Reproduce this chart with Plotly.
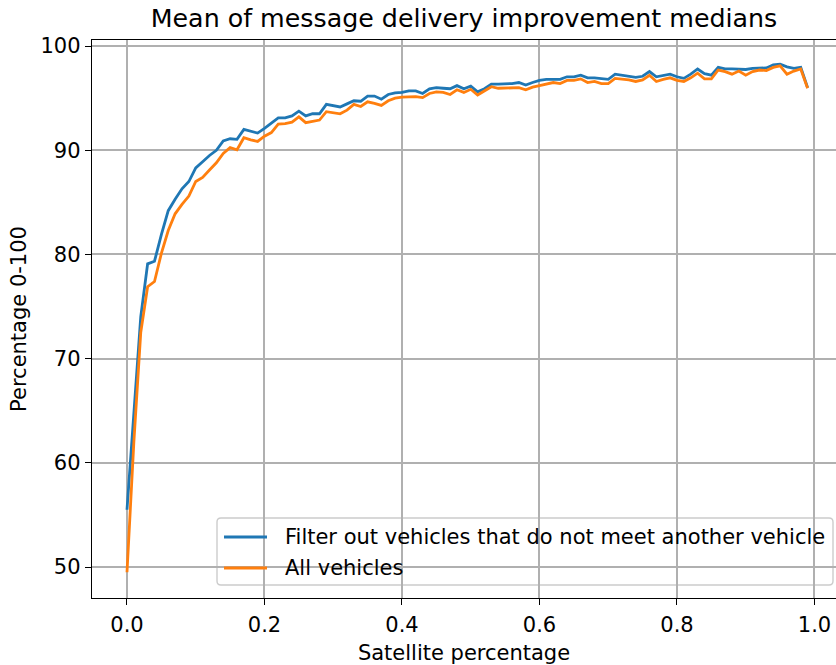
import plotly.graph_objects as go

# Satellite share (0.00 .. 0.99 in steps of 0.01)
satellite_pct = [round(i / 100, 2) for i in range(100)]

# Mean of the per-run medians of message delivery improvement (%)
filtered_vehicles = [
    55.5, 65.0, 74.0, 79.1, 79.35, 81.9, 84.2, 85.3, 86.3, 87.0,
    88.3, 88.9, 89.5, 90.0, 90.9, 91.1, 91.05, 92.0, 91.8, 91.65,
    92.1, 92.6, 93.1, 93.1, 93.3, 93.75, 93.3, 93.5, 93.5, 94.4,
    94.25, 94.15, 94.45, 94.75, 94.7, 95.2, 95.2, 94.9, 95.35, 95.5,
    95.55, 95.7, 95.7, 95.45, 95.9, 96.0, 95.95, 95.9, 96.2, 95.9,
    96.15, 95.6, 95.9, 96.35, 96.35, 96.35, 96.4, 96.5, 96.25, 96.5,
    96.7, 96.8, 96.8, 96.8, 97.05, 97.05, 97.2, 96.95, 96.95, 96.85,
    96.8, 97.3, 97.2, 97.15, 97.0, 97.1, 97.55, 97.05, 97.15, 97.3,
    97.05, 96.9, 97.3, 97.8, 97.35, 97.2, 97.95, 97.8, 97.8, 97.8,
    97.75, 97.85, 97.85, 97.9, 98.2, 98.25, 98.0, 97.85, 97.95, 96.0,
]
all_vehicles = [
    49.5, 62.0, 72.5, 76.9, 77.4, 80.1, 82.3, 83.9, 84.8, 85.6,
    87.0, 87.4, 88.1, 88.8, 89.7, 90.25, 90.05, 91.2, 91.0, 90.85,
    91.35, 91.7, 92.5, 92.55, 92.7, 93.2, 92.65, 92.8, 92.9, 93.7,
    93.6, 93.5, 93.85, 94.4, 94.2, 94.65, 94.5, 94.3, 94.75, 95.0,
    95.1, 95.15, 95.15, 95.05, 95.45, 95.6, 95.55, 95.35, 95.8, 95.55,
    95.85, 95.3, 95.7, 96.1, 95.95, 95.95, 96.0, 96.0, 95.8, 96.05,
    96.2, 96.35, 96.5, 96.4, 96.7, 96.7, 96.85, 96.5, 96.6, 96.4,
    96.4, 96.9, 96.85, 96.75, 96.6, 96.75, 97.2, 96.6, 96.8, 96.95,
    96.7, 96.6, 96.95, 97.4, 96.85, 96.85, 97.7, 97.55, 97.3, 97.6,
    97.2, 97.55, 97.7, 97.65, 97.95, 98.1, 97.3, 97.6, 97.8, 95.95,
]

series_names = ["Filter out vehicles that do not meet another vehicle", "All vehicles"]
x_ticks = [0.0, 0.2, 0.4, 0.6, 0.8, 1.0]
x_tick_labels = ["0.0", "0.2", "0.4", "0.6", "0.8", "1.0"]
y_ticks = [50, 60, 70, 80, 90, 100]
y_tick_labels = ["50", "60", "70", "80", "90", "100"]

FONT = "DejaVu Sans"
BLUE = "#1f77b4"
ORANGE = "#ff7f0e"
TXT = 21
TITLE_TXT = 25.3
LINE_W = 2.8

W, H = 836, 665
M_L, M_R, M_T, M_B = 92, 0, 40, 67
PLOT_W = W - M_L - M_R
PLOT_H = H - M_T - M_B


def px_x(px):
    """Horizontal page pixel -> paper fraction."""
    return (px - M_L) / PLOT_W


def px_y(py):
    """Vertical page pixel -> paper fraction."""
    return (H - M_B - py) / PLOT_H


fig = go.Figure()
fig.add_trace(go.Scatter(
    x=satellite_pct, y=filtered_vehicles, mode="lines", name=series_names[0],
    line=dict(color=BLUE, width=LINE_W), showlegend=False,
))
fig.add_trace(go.Scatter(
    x=satellite_pct, y=all_vehicles, mode="lines", name=series_names[1],
    line=dict(color=ORANGE, width=LINE_W), showlegend=False,
))

# Legend panel: rounded, semi-transparent frame over the grid
bx0, bx1, by0, by1 = px_x(217), px_x(833), px_y(585), px_y(518)
rx, ry = 4 / PLOT_W, 4 / PLOT_H
legend_path = (
    f"M {bx0 + rx},{by0} L {bx1 - rx},{by0} Q {bx1},{by0} {bx1},{by0 + ry} "
    f"L {bx1},{by1 - ry} Q {bx1},{by1} {bx1 - rx},{by1} "
    f"L {bx0 + rx},{by1} Q {bx0},{by1} {bx0},{by1 - ry} "
    f"L {bx0},{by0 + ry} Q {bx0},{by0} {bx0 + rx},{by0} Z"
)
shapes = [dict(
    type="path", path=legend_path, xref="paper", yref="paper",
    fillcolor="rgba(255,255,255,0.8)", line=dict(color="#cccccc", width=1.4),
    layer="between",
)]
annotations = []
for name, color, row_py in [(series_names[0], BLUE, 537), (series_names[1], ORANGE, 568)]:
    shapes.append(dict(
        type="line", xref="paper", yref="paper",
        x0=px_x(224), x1=px_x(267), y0=px_y(row_py), y1=px_y(row_py),
        line=dict(color=color, width=LINE_W), layer="above",
    ))
    annotations.append(dict(
        text=name, xref="paper", yref="paper", x=px_x(283), y=px_y(row_py),
        xanchor="left", yanchor="middle", showarrow=False,
        font=dict(family=FONT, size=TXT, color="black"),
    ))

axis_common = dict(
    showgrid=True, gridcolor="#b0b0b0", gridwidth=1.5,
    zeroline=False, showline=True, linecolor="black", linewidth=1.4,
    ticks="outside", ticklen=6, tickwidth=1.4, tickcolor="black",
    tickfont=dict(family=FONT, size=TXT, color="black"),
)

fig.update_layout(
    width=W, height=H,
    margin=dict(l=M_L, r=M_R, t=M_T, b=M_B),
    plot_bgcolor="white", paper_bgcolor="white",
    font=dict(family=FONT, size=TXT, color="black"),
    title=dict(
        text="Mean of message delivery improvement medians",
        x=0.5, xref="paper", xanchor="center",
        y=1 - 18 / H, yanchor="middle",
        font=dict(family=FONT, size=TITLE_TXT, color="black"),
    ),
    xaxis=dict(
        range=[-0.0509, 1.0313], tickvals=x_ticks, ticktext=x_tick_labels,
        mirror=True, ticklabelstandoff=2,
        title=dict(text="Satellite percentage", standoff=8,
                   font=dict(family=FONT, size=TXT, color="black")),
        **axis_common,
    ),
    yaxis=dict(
        range=[47.03, 100.58], tickvals=y_ticks, ticktext=y_tick_labels,
        mirror=False,
        title=dict(text="Percentage 0-100", standoff=8,
                   font=dict(family=FONT, size=TXT, color="black")),
        **axis_common,
    ),
    shapes=shapes,
    annotations=annotations,
    showlegend=False,
)

fig.write_html("out.html")
